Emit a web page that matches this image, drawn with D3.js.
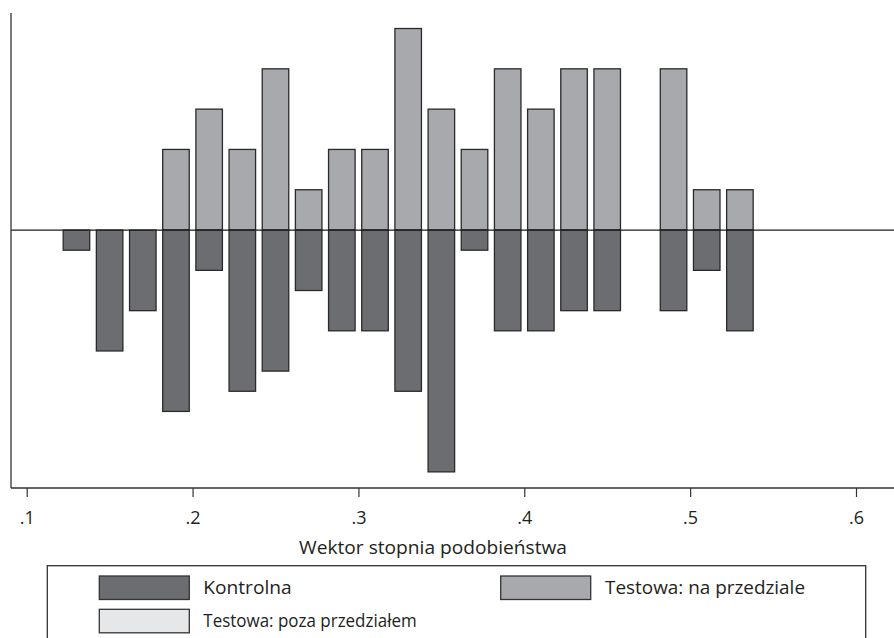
<!DOCTYPE html>
<html>
<head>
<meta charset="utf-8">
<script src="https://cdn.jsdelivr.net/npm/d3@7"></script>
<style>
  html, body { margin: 0; padding: 0; background: #fff; }
  svg { display: block; }
  text { font-family: "Open Sans", "Noto Sans", sans-serif; fill: #231f20; }
</style>
</head>
<body>
<svg id="chart" width="894" height="638"></svg>
<script>
// Propensity-score bins (bin centres) and bar heights
const binCenters   = [0.13, 0.15, 0.17, 0.19, 0.21, 0.23, 0.25, 0.27, 0.29, 0.31, 0.33,
                      0.35, 0.37, 0.39, 0.41, 0.43, 0.45, 0.47, 0.49, 0.51, 0.53];
// Treated group, on common support (drawn above the zero line)
const treatedOnSupport = [0, 0, 0, 2, 3, 2, 4, 1, 2, 2, 5,
                          3, 2, 4, 3, 4, 4, 0, 4, 1, 1];
// Control group (drawn below the zero line)
const controlValues    = [0.5, 3, 2, 4.5, 1, 4, 3.5, 1.5, 2.5, 2.5, 4,
                          6, 0.5, 2.5, 2.5, 2, 2, 0, 2, 1, 2.5];
const xTicks = [0.1, 0.2, 0.3, 0.4, 0.5, 0.6];
const xTitle = "Wektor stopnia podobieństwa";
const legendItems = [
  { label: "Kontrolna",                 key: "control" },
  { label: "Testowa: na przedziale",    key: "onsupport" },
  { label: "Testowa: poza przedziałem", key: "offsupport" }
];

const colors = { control: "#6c6d71", onsupport: "#a8a9ad", offsupport: "#e6e7e9" };
const outline = "#2a2a2a";
const halfBar = 0.008;

const svg = d3.select("#chart");

const plot = { left: 11, right: 894, top: 13, bottom: 488 };

const x = d3.scaleLinear().domain([0.1, 0.6]).range([26.7, 856]);
const y = d3.scaleLinear().domain([-6.40, 5.385]).range([plot.bottom, plot.top]);

const bins = binCenters.map((c, i) => ({ c, up: treatedOnSupport[i], down: controlValues[i] }));

// treated bars above zero
svg.append("g").selectAll("rect")
  .data(bins.filter(d => d.up > 0))
  .join("rect")
  .attr("x", d => x(d.c - halfBar))
  .attr("width", d => x(d.c + halfBar) - x(d.c - halfBar))
  .attr("y", d => y(d.up))
  .attr("height", d => y(0) - y(d.up))
  .attr("fill", colors.onsupport)
  .attr("stroke", outline)
  .attr("stroke-width", 1.3);

// control bars mirrored below zero
svg.append("g").selectAll("rect")
  .data(bins.filter(d => d.down > 0))
  .join("rect")
  .attr("x", d => x(d.c - halfBar))
  .attr("width", d => x(d.c + halfBar) - x(d.c - halfBar))
  .attr("y", y(0))
  .attr("height", d => y(-d.down) - y(0))
  .attr("fill", colors.control)
  .attr("stroke", outline)
  .attr("stroke-width", 1.3);

// zero line
svg.append("line")
  .attr("x1", plot.left).attr("x2", plot.right)
  .attr("y1", y(0)).attr("y2", y(0))
  .attr("stroke", "#1e1e1e").attr("stroke-width", 1.3);

// left axis line (no labels)
svg.append("line")
  .attr("x1", plot.left).attr("x2", plot.left)
  .attr("y1", plot.top).attr("y2", plot.bottom)
  .attr("stroke", "#333").attr("stroke-width", 1.3);

// bottom axis
const xAxis = d3.axisBottom(x)
  .tickValues(xTicks)
  .tickSize(9)
  .tickPadding(14)
  .tickFormat(d => d3.format(".1f")(d).replace(/^0/, ""));

const gx = svg.append("g")
  .attr("transform", `translate(0,${plot.bottom})`)
  .call(xAxis);
gx.select(".domain").remove();
gx.insert("line", ":first-child")
  .attr("x1", plot.left).attr("x2", plot.right)
  .attr("y1", 0).attr("y2", 0)
  .attr("stroke", "#333").attr("stroke-width", 1.3);
gx.selectAll(".tick line").attr("stroke", "#333").attr("stroke-width", 1.2);
gx.selectAll(".tick text")
  .attr("font-size", 18)
  .attr("font-family", "'Open Sans', sans-serif")
  .attr("fill", "#231f20");

// axis title
svg.append("text")
  .attr("x", 433).attr("y", 554)
  .attr("text-anchor", "middle")
  .attr("font-size", 18)
  .attr("textLength", 268)
  .attr("lengthAdjust", "spacingAndGlyphs")
  .text(xTitle);

// legend
const lg = svg.append("g");
lg.append("rect")
  .attr("x", 47.3).attr("y", 565.7)
  .attr("width", 818.4).attr("height", 90)
  .attr("fill", "none").attr("stroke", "#333").attr("stroke-width", 1.3);

const legendPos = [
  { sx: 99.3,  sy: 576,   tx: 203.3, w: 88.4 },
  { sx: 500.7, sy: 576,   tx: 605,   w: 200 },
  { sx: 99.3,  sy: 609.3, tx: 203.3, w: 213.4 }
];
legendItems.forEach((item, i) => {
  const p = legendPos[i];
  lg.append("rect")
    .attr("x", p.sx).attr("y", p.sy)
    .attr("width", 90).attr("height", 23.5)
    .attr("fill", colors[item.key])
    .attr("stroke", "#333").attr("stroke-width", 1.3);
  lg.append("text")
    .attr("x", p.tx).attr("y", p.sy + 18)
    .attr("font-size", 18)
    .attr("textLength", p.w)
    .attr("lengthAdjust", "spacingAndGlyphs")
    .text(item.label);
});
</script>
</body>
</html>
